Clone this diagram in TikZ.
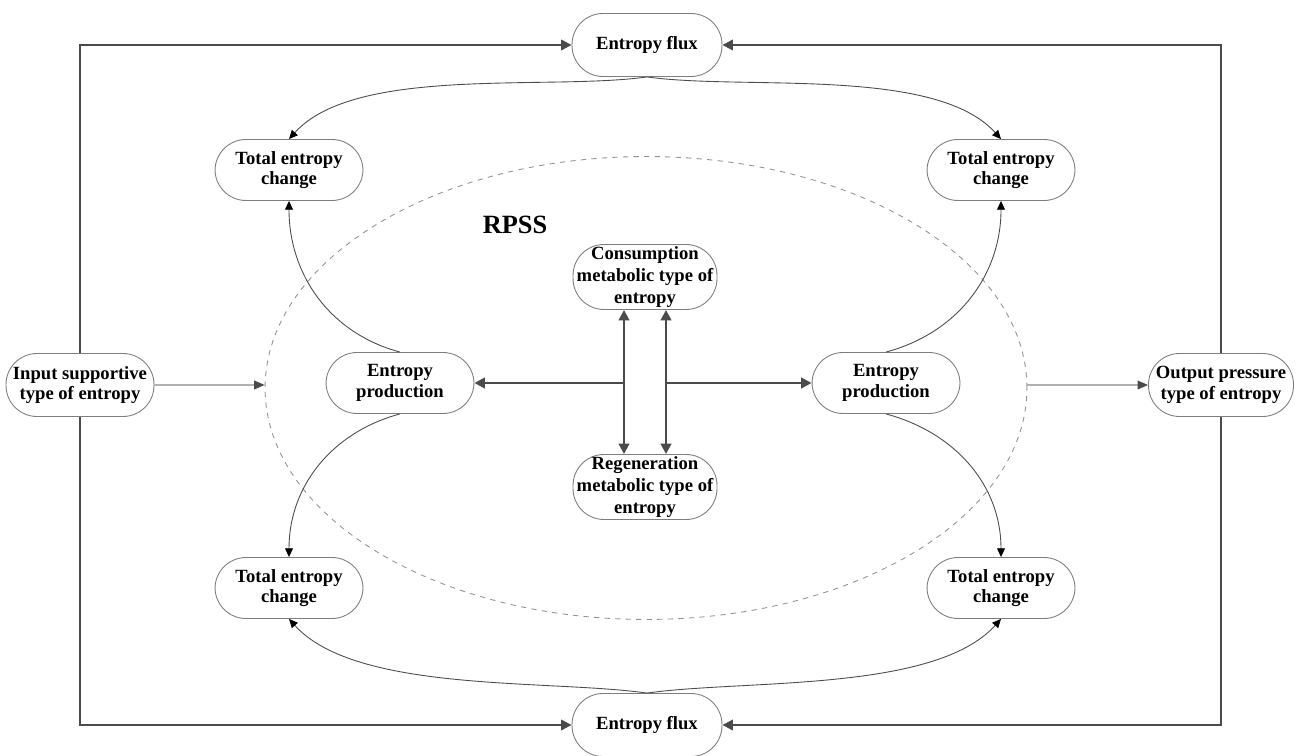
\documentclass[tikz,border=0pt]{standalone}
\usepackage{fontspec}
\setmainfont{Liberation Serif}
\usetikzlibrary{arrows.meta,shapes.geometric}
\definecolor{edge}{RGB}{75,75,75}
\definecolor{rim}{RGB}{125,125,125}
\def\bigtip{Triangle[length=6pt,width=6pt]}
\def\smalltip{Triangle[length=5pt,width=4.5pt,color=black]}

\begin{document}
\begin{tikzpicture}[x=0.02cm,y=-0.02cm,
    box/.style={draw=rim,line width=0.5pt,rectangle,rounded corners=0.62cm,
        minimum width=2.96cm,minimum height=1.22cm,inner sep=0pt,align=center,
        font=\fontsize{10.6}{11.6}\selectfont\bfseries},
    tallbox/.style={box,minimum width=2.88cm,minimum height=1.3cm,
        font=\fontsize{10.6}{12.4}\selectfont\bfseries},
    frameline/.style={draw=edge,line width=1.2pt,-{\bigtip}},
    midline/.style={draw=edge,line width=1.5pt},
    bendline/.style={draw=edge,line width=0.5pt,-{\smalltip}},
    feedline/.style={draw=gray!60,line width=0.7pt,-{Triangle[length=6pt,width=5pt,color=edge]}}]
    \useasboundingbox (0,0) rectangle (1300,756);

    \node[draw=gray!85,dashed,line width=0.5pt,ellipse,inner sep=0pt,
        minimum width=15.24cm,minimum height=9.26cm] (rpss) at (646,388) {};
    \node[font=\fontsize{15}{18}\selectfont\bfseries] (rpsslbl) at (515,225) {RPSS};

    \node[box,minimum width=3cm,minimum height=1.26cm] (fluxT) at (647,45) {Entropy flux};
    \node[box,minimum width=3cm,minimum height=1.26cm] (fluxB) at (647,725) {Entropy flux};
    \node[box] (tecTL) at (289,170) {Total entropy\\change};
    \node[box] (tecTR) at (1001,170) {Total entropy\\change};
    \node[box] (tecBL) at (289,588) {Total entropy\\change};
    \node[box] (tecBR) at (1001,588) {Total entropy\\change};
    \node[box,minimum height=1.26cm] (inp) at (80,385) {Input supportive\\type of entropy};
    \node[box,minimum width=2.9cm,minimum height=1.26cm] (outp) at (1221,385) {Output pressure\\type of entropy};
    \node[box] (prodL) at (400,383) {Entropy\\production};
    \node[box] (prodR) at (886,383) {Entropy\\production};
    \node[tallbox] (cons) at (645,277) {Consumption\\metabolic type of\\entropy};
    \node[tallbox] (regen) at (645,487) {Regeneration\\metabolic type of\\entropy};

    % outer loop through the two entropy flux boxes
    \draw[frameline] (inp) |- (fluxT);
    \draw[frameline] (inp) |- (fluxB);
    \draw[frameline] (outp) |- (fluxT);
    \draw[frameline] (outp) |- (fluxB);

    % input and output across the RPSS boundary
    \draw[feedline] (inp) -- (inp -| rpss.west);
    \draw[feedline] (outp -| rpss.east) -- (outp);

    % metabolic exchange in the middle
    \coordinate (jl) at (624,383);
    \coordinate (jr) at (666,383);
    \draw[midline,-{\bigtip}] (jl) -- (prodL);
    \draw[midline,-{\bigtip}] (jr) -- (prodR);
    \draw[midline,{\bigtip}-{\bigtip}] (cons.south -| jl) -- (regen.north -| jl);
    \draw[midline,{\bigtip}-{\bigtip}] (cons.south -| jr) -- (regen.north -| jr);

    % curved links to the total entropy change boxes
    \draw[bendline] (fluxT.south) to[out=188,in=48,looseness=0.7] (tecTL.north);
    \draw[bendline] (fluxT.south) to[out=-8,in=132,looseness=0.7] (tecTR.north);
    \draw[bendline] (prodL.north) to[out=165,in=-90] (tecTL.south);
    \draw[bendline] (prodR.north) to[out=15,in=-90] (tecTR.south);
    \draw[bendline] (prodL.south) to[out=195,in=90] (tecBL.north);
    \draw[bendline] (prodR.south) to[out=-15,in=90] (tecBR.north);
    \draw[bendline] (fluxB.north) to[out=172,in=-48,looseness=0.7] (tecBL.south);
    \draw[bendline] (fluxB.north) to[out=8,in=-132,looseness=0.7] (tecBR.south);
\end{tikzpicture}
\end{document}
